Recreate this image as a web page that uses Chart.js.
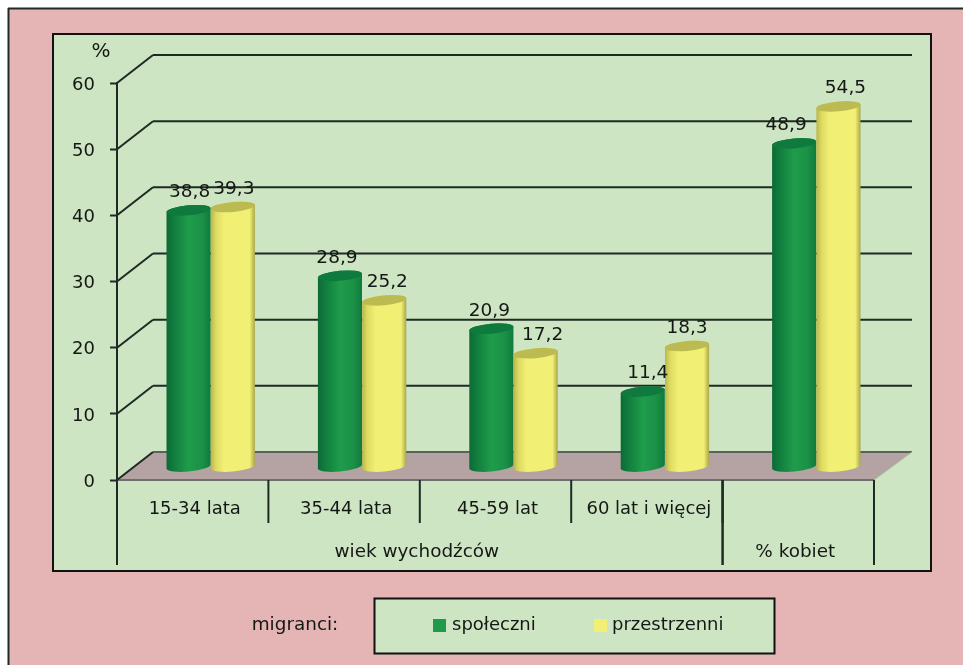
<!DOCTYPE html>
<html>

<head>
    <title>Migranci</title>
    <meta charset="UTF-8">
    <script src="https://cdn.jsdelivr.net/npm/chart.js@4"></script>
    <style>
        body { margin: 0; background: #fff; }
    </style>
</head>

<body>
    <canvas id="myChart" width="963" height="665"></canvas>

    <script>
        const categories = ['15-34 lata', '35-44 lata', '45-59 lat', '60 lat i więcej', ''];
        const spoleczni = [38.8, 28.9, 20.9, 11.4, 48.9];
        const przestrzenni = [39.3, 25.2, 17.2, 18.3, 54.5];
        const seriesNames = ['społeczni', 'przestrzenni'];
        const groupLabels = ['wiek wychodźców', '% kobiet'];
        const groupSpans = [4, 1];
        const yTicks = [0, 10, 20, 30, 40, 50, 60];

        // the hand-placed value labels sit a little off their bars
        const labelShift = [
            [1, -3, -2, 5, -8],
            [1, 3, 7, 0, 7]
        ];

        const FONT = '"DejaVu Sans", sans-serif';
        const TEXT = '#141814';
        const LINE = '#1f2a22';
        const PINK = '#e4b5b4';
        const PANEL = '#cde5c3';
        const FLOOR = '#b5a3a3';
        const GREEN = '#1f9a4b';
        const YELLOW = '#f1ef74';
        // depth of the fake 3d box
        const DEPTH_X = 36, DEPTH_Y = 28;
        const BAR_DX = 18, BAR_DY = 13, TILT = -0.09, RY = 5;

        function line(ctx, x1, y1, x2, y2, color, width) {
            ctx.strokeStyle = color;
            ctx.lineWidth = width;
            ctx.beginPath();
            ctx.moveTo(x1, y1);
            ctx.lineTo(x2, y2);
            ctx.stroke();
        }

        function text(ctx, str, x, y, size, align) {
            ctx.fillStyle = TEXT;
            ctx.font = size + 'px ' + FONT;
            ctx.textAlign = align || 'center';
            ctx.textBaseline = 'middle';
            ctx.fillText(str, x, y);
        }

        // bars are drawn as cylinders, everything still comes from the bar element's own x/y/base/width
        Chart.BarElement.prototype.draw = function (ctx) {
            const w = this.width, x = this.x + BAR_DX;
            const top = this.y - BAR_DY, base = this.base - BAR_DY;
            const left = x - w / 2, right = x + w / 2;
            const isGreen = this.options.backgroundColor === GREEN;
            const g = ctx.createLinearGradient(left, 0, right, 0);
            if (isGreen) {
                g.addColorStop(0, '#0c6a35');
                g.addColorStop(0.2, '#12803f');
                g.addColorStop(0.5, '#1f9c4b');
                g.addColorStop(0.8, '#1b9147');
                g.addColorStop(1, '#107a3c');
            } else {
                g.addColorStop(0, '#b9b64a');
                g.addColorStop(0.12, '#dedb62');
                g.addColorStop(0.3, '#f1ef74');
                g.addColorStop(0.88, '#f1ef74');
                g.addColorStop(1, '#a9a647');
            }
            ctx.save();
            ctx.fillStyle = g;
            ctx.beginPath();
            ctx.ellipse(x, top, w / 2, RY, TILT, Math.PI, 0, false);
            ctx.ellipse(x, base, w / 2, RY, TILT, 0, Math.PI, false);
            ctx.closePath();
            ctx.fill();
            ctx.fillStyle = isGreen ? '#0f7a3d' : '#bcbb52';
            ctx.beginPath();
            ctx.ellipse(x, top, w / 2, RY, TILT, 0, Math.PI * 2);
            ctx.fill();
            ctx.restore();
        };

        const box3d = {
            id: 'box3d',
            beforeDraw(chart) {
                const ctx = chart.ctx, x = chart.scales.x, y = chart.scales.y;
                const left = x.left, right = x.right, zero = y.getPixelForValue(0);

                // page frames
                ctx.fillStyle = '#fff';
                ctx.fillRect(0, 0, 963, 665);
                ctx.fillStyle = PINK;
                ctx.fillRect(8, 8, 955, 657);
                line(ctx, 8, 8.5, 963, 8.5, LINE, 2);
                line(ctx, 8.5, 8, 8.5, 665, LINE, 2);
                ctx.fillStyle = PANEL;
                ctx.fillRect(53, 34, 878, 537);
                ctx.strokeStyle = '#111';
                ctx.lineWidth = 2;
                ctx.strokeRect(53, 34, 878, 537);

                // floor
                ctx.fillStyle = FLOOR;
                ctx.beginPath();
                ctx.moveTo(left, zero);
                ctx.lineTo(left + DEPTH_X, zero - DEPTH_Y);
                ctx.lineTo(right + DEPTH_X + 2, zero - DEPTH_Y);
                ctx.lineTo(right, zero);
                ctx.closePath();
                ctx.fill();
                line(ctx, left, zero, right, zero, '#6f6f6c', 2);
                line(ctx, left + DEPTH_X, zero - DEPTH_Y, right + DEPTH_X + 2, zero - DEPTH_Y, '#5f5f5c', 2);
                line(ctx, right, zero, right + DEPTH_X + 2, zero - DEPTH_Y, '#a9c3a0', 1);

                // wall lines, from the value scale
                yTicks.forEach(t => {
                    const py = y.getPixelForValue(t);
                    line(ctx, left, py, left + DEPTH_X, py - DEPTH_Y, LINE, 2);
                    if (t > 0) line(ctx, left + DEPTH_X, py - DEPTH_Y, right + DEPTH_X + 2, py - DEPTH_Y, LINE, 2);
                });

                // category dividers and the two group labels
                const step = x.width / categories.length;
                categories.forEach((c, i) => {
                    if (i > 0) {
                        const px = x.getPixelForValue(i) - step / 2;
                        line(ctx, px, zero, px, zero + 43, LINE, 2);
                    }
                });
                let start = 0;
                groupLabels.forEach((label, i) => {
                    const from = left + start * step;
                    const to = from + groupSpans[i] * step;
                    line(ctx, from, zero, from, zero + 85, LINE, 2);
                    line(ctx, to, zero, to, zero + 85, LINE, 2);
                    text(ctx, label, (from + to) / 2 - 3, zero + 72, 18.4);
                    start += groupSpans[i];
                });

                text(ctx, '%', 101, 52, 20);

                // legend box
                ctx.fillStyle = PANEL;
                ctx.fillRect(374.5, 598.5, 400, 55);
                ctx.strokeStyle = '#111';
                ctx.lineWidth = 2;
                ctx.strokeRect(374.5, 598.5, 400, 55);
                text(ctx, 'migranci:', 295, 625, 18.4);
                ctx.fillStyle = GREEN;
                ctx.fillRect(433, 619, 13, 13);
                text(ctx, seriesNames[0], 452, 625, 18, 'left');
                ctx.fillStyle = YELLOW;
                ctx.fillRect(594, 619, 13, 13);
                text(ctx, seriesNames[1], 612, 625, 18, 'left');
            },
            // the library paints dataset 0 last; here yellow has to lie over green
            beforeDatasetsDraw(chart) {
                chart.getDatasetMeta(0).controller.draw();
                chart.getDatasetMeta(1).controller.draw();
                return false;
            },
            afterDraw(chart) {
                const ctx = chart.ctx;
                [spoleczni, przestrzenni].forEach((values, d) => {
                    chart.getDatasetMeta(d).data.forEach((bar, i) => {
                        const str = values[i].toFixed(1).replace('.', ',');
                        text(ctx, str, bar.x + BAR_DX + labelShift[d][i], bar.y - BAR_DY - 18, 18.5);
                    });
                });
            }
        };

        const ctx = document.getElementById('myChart').getContext('2d');
        const chart = new Chart(ctx, {
            type: 'bar',
            data: {
                labels: categories,
                datasets: [
                    { label: seriesNames[0], data: spoleczni, backgroundColor: GREEN },
                    { label: seriesNames[1], data: przestrzenni, backgroundColor: YELLOW }
                ]
            },
            plugins: [box3d],
            options: {
                responsive: false,
                animation: false,
                devicePixelRatio: 1,
                layout: { autoPadding: false, padding: { left: 0, right: 89, top: 83, bottom: 0 } },
                categoryPercentage: 0.585,
                barPercentage: 1,
                plugins: { legend: { display: false }, tooltip: { enabled: false }, title: { display: false } },
                scales: {
                    x: {
                        afterFit(s) { s.height = 185; },
                        grid: { display: false },
                        border: { display: false },
                        ticks: { color: TEXT, font: { family: FONT, size: 18 }, padding: 11, labelOffset: 2, maxRotation: 0, autoSkip: false }
                    },
                    y: {
                        min: 0,
                        max: 60,
                        afterFit(s) { s.width = 117; },
                        afterBuildTicks(s) { s.ticks = yTicks.map(v => ({ value: v })); },
                        grid: { drawOnChartArea: false, tickLength: 7, tickColor: LINE, tickWidth: 2 },
                        border: { display: true, color: LINE, width: 2 },
                        ticks: { color: TEXT, font: { family: FONT, size: 18 }, padding: 15, labelOffset: 2 }
                    }
                }
            }
        });
    </script>

</body>

</html>
